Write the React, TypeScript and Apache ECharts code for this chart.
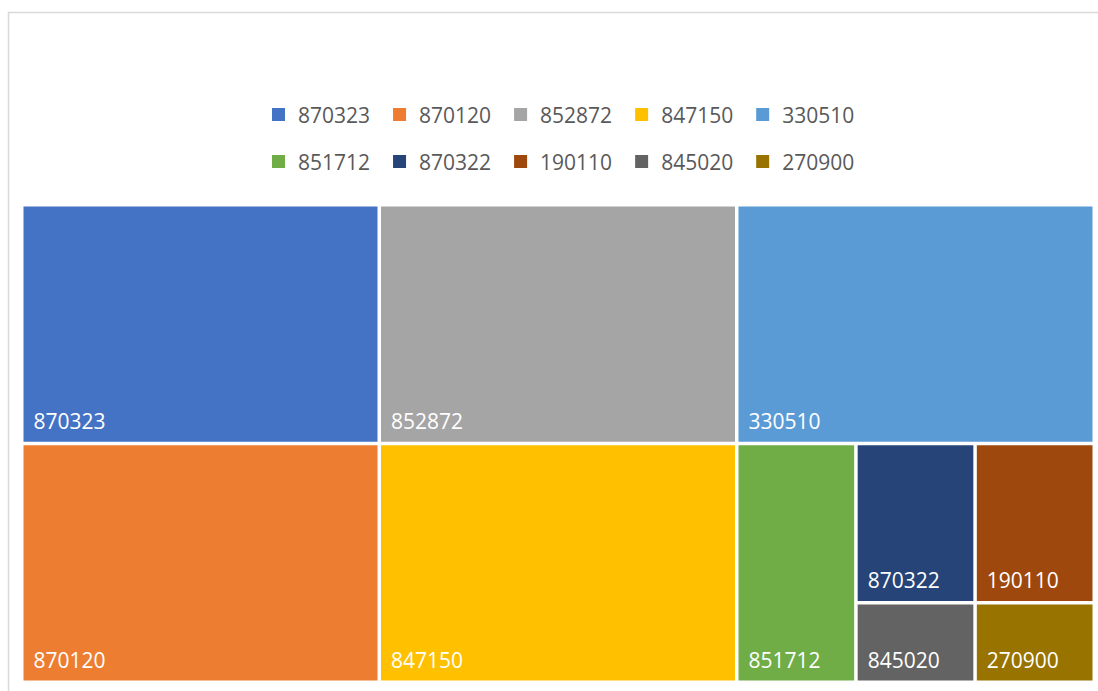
import React, { useEffect, useRef } from "react";
import * as echarts from "echarts";

const categories = ["870323", "870120", "852872", "847150", "330510", "851712", "870322", "190110", "845020", "270900"];
const values = [9, 9, 9, 9, 9, 3, 2, 2, 1, 1];
const colors = ["#4472C4", "#ED7D31", "#A5A5A5", "#FFC000", "#5B9BD5", "#70AD47", "#264478", "#9E480E", "#636363", "#997300"];
const legendRow1 = categories.slice(0, 5);
const legendRow2 = categories.slice(5);

export default function App() {
  const ref = useRef<HTMLDivElement>(null);
  useEffect(() => {
    const chart = echarts.init(ref.current!, null, { renderer: "svg" });
    const font = "'Open Sans', sans-serif";
    const legendBase = {
      left: 267,
      orient: "horizontal",
      icon: "rect",
      itemWidth: 13,
      itemHeight: 13,
      itemGap: 23,
      selectedMode: false,
      textStyle: { color: "#595959", fontSize: 21, fontFamily: font, padding: [0, 0, 0, 8] },
    };
    chart.setOption({
      animation: false,
      backgroundColor: "#fff",
      legend: [
        { ...legendBase, top: 99, data: legendRow1 },
        { ...legendBase, top: 146, data: legendRow2 },
      ],
      graphic: [
        {
          type: "rect",
          silent: true,
          z: -1,
          shape: { x: 8.5, y: 12.5, width: 1200, height: 900 },
          style: { fill: "none", stroke: "#d9d9d9", lineWidth: 1.5 },
        },
      ],
      series: [
        {
          type: "treemap",
          left: 23.5,
          top: 206.5,
          width: 1069,
          height: 474,
          sort: false,
          roam: false,
          nodeClick: false,
          squareRatio: 1,
          breadcrumb: { show: false },
          levels: [
            { itemStyle: { gapWidth: 3.5, borderWidth: 0, borderColor: "#fff" } },
            { itemStyle: { gapWidth: 0, borderWidth: 0 } },
          ],
          label: {
            show: true,
            position: "insideBottomLeft",
            distance: 5,
            color: "#fff",
            fontSize: 21,
            fontFamily: font,
            formatter: "{b}",
          },
          data: categories.map((c, i) => ({ name: c, value: values[i], itemStyle: { color: colors[i] } })),
        },
        ...categories.map((c, i) => ({
          type: "pie",
          name: c,
          data: [],
          radius: 0,
          showEmptyCircle: false,
          silent: true,
          itemStyle: { color: colors[i] },
        })),
      ],
    });
    return () => chart.dispose();
  }, []);
  return <div ref={ref} style={{ position: "absolute", left: 0, top: 0, width: 1098, height: 691 }} />;
}
